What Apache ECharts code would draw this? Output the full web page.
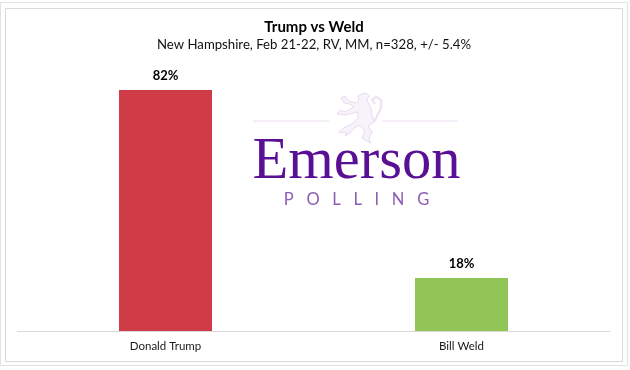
<!DOCTYPE html>
<html>
<head>
<meta charset="utf-8">
<style>html,body{margin:0;padding:0;background:#fff}#c{width:630px;height:370px}</style>
<script src="https://cdn.jsdelivr.net/npm/echarts@6/dist/echarts.min.js"></script>
</head>
<body>
<div id="c"></div>
<script>
const categories = ['Donald Trump', 'Bill Weld'];
const values = [82, 18];
const barColors = ['#CF3C47', '#92C557'];
const titleText = 'Trump vs Weld';
const subtitleText = 'New Hampshire, Feb 21-22, RV, MM, n=328, +/- 5.4%';

const purple = '#5A1095';
const pale = '#EBDDF3';
const lionBody = [[358,96],[362,94],[366,93],[369,96],[367,100],[369,104],[371,108],[372,115],[374,122],[368,126],[372,132],[370,136],[369,140],[371,143],[367,141],[362,138],[365,131],[360,125],[354,128],[350,133],[345,136],[347,133],[339,132],[345,127],[352,124],[358,118],[358,112],[345,115],[337,114],[340,110],[345,112],[354,107],[350,104],[344,103],[341,98],[345,96],[349,101],[356,103],[359,100]];
const lionTail = [[374,122],[381,108],[381,100],[376,97],[372,100],[375,104]];

const chart = echarts.init(document.getElementById('c'), null, {renderer: 'canvas'});
chart.setOption({
  animation: false,
  backgroundColor: '#fff',
  textStyle: {fontFamily: 'Lato'},
  grid: {left: 17.5, right: 20.5, top: 37, bottom: 39},
  xAxis: {
    type: 'category',
    data: categories,
    axisTick: {show: false},
    axisLine: {lineStyle: {color: '#D9D9D9', width: 1}},
    axisLabel: {color: '#1a1a1a', fontSize: 11.5, margin: 9, fontFamily: 'Lato'}
  },
  yAxis: {type: 'value', min: 0, max: 100, show: false},
  series: [{
    type: 'bar',
    barWidth: 93,
    data: values.map((v, i) => ({value: v, itemStyle: {color: barColors[i]}})),
    label: {
      show: true,
      position: 'top',
      distance: 8,
      formatter: '{c}%',
      color: '#000',
      fontWeight: 'bold',
      fontSize: 13,
      fontFamily: 'Lato'
    }
  }],
  graphic: [
    {type: 'rect', z: -1, shape: {x: 0.5, y: 2.5, width: 627, height: 363}, style: {fill: 'none', stroke: '#E2E2E2'}},
    {type: 'rect', z: -1, shape: {x: 5.5, y: 8.5, width: 617, height: 353}, style: {fill: 'none', stroke: '#D9D9D9'}},
    {type: 'text', x: 314, y: 27, style: {text: titleText, align: 'center', verticalAlign: 'middle', font: 'bold 15px Lato', fill: '#000'}},
    {type: 'text', x: 314, y: 45, style: {text: subtitleText, align: 'center', verticalAlign: 'middle', font: '13.2px Lato', fill: '#111'}},
    {type: 'line', shape: {x1: 253, y1: 121, x2: 329, y2: 121}, style: {stroke: pale, lineWidth: 1}},
    {type: 'line', shape: {x1: 382, y1: 121, x2: 458, y2: 121}, style: {stroke: pale, lineWidth: 1}},
    {type: 'polyline', shape: {points: lionTail}, style: {fill: 'none', stroke: '#EFE4F5', lineWidth: 2.5}},
    {type: 'polygon', shape: {points: lionBody}, style: {fill: '#F8F3FA', stroke: '#E8DBF0', lineWidth: 1}},
    {type: 'text', x: 356.5, y: 163, style: {text: 'Emerson', align: 'center', verticalAlign: 'middle', font: '58.5px "Liberation Serif"', fill: purple}},
    {type: 'text', x: 356.5, y: 200, style: {text: 'P   O   L   L   I   N   G', align: 'center', verticalAlign: 'middle', font: '16.5px "Lato"', fill: '#8A5DB3'}}
  ]
});
</script>
</body>
</html>
